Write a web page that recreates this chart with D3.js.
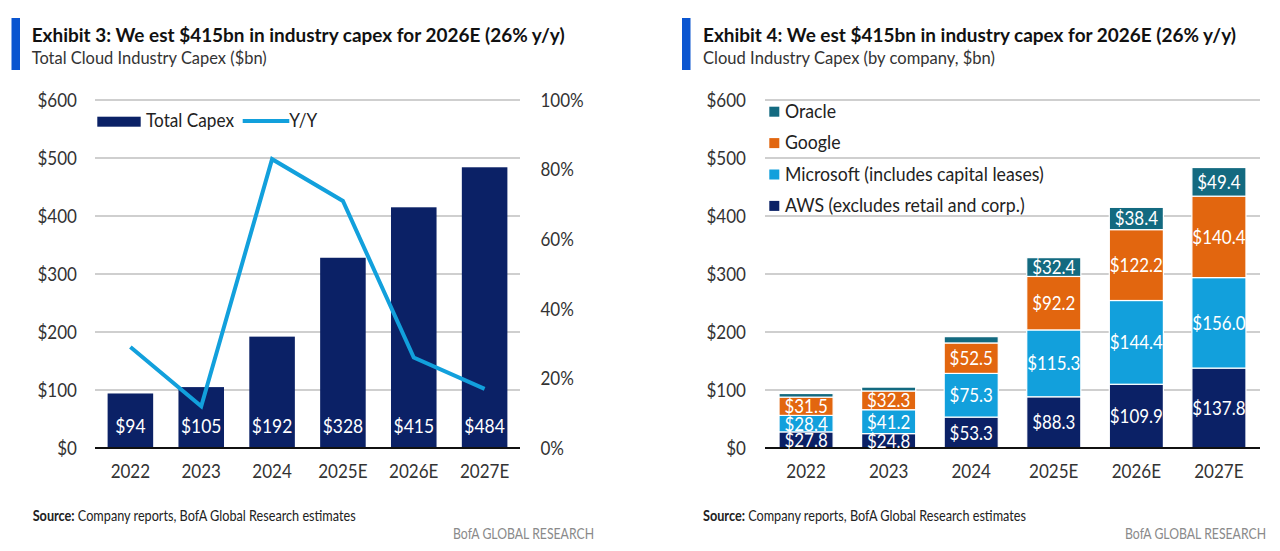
<!DOCTYPE html>
<html><head><meta charset="utf-8">
<script src="https://cdn.jsdelivr.net/npm/d3@7"></script>
<style>
html,body{margin:0;padding:0;background:#fff;}
svg{display:block;}
text{font-family:"Lato","Open Sans",sans-serif;}
</style></head>
<body>
<svg id="c" width="1280" height="551"></svg>
<script>
const categories = ["2022","2023","2024","2025E","2026E","2027E"];
const totalCapex = [94,105,192,328,415,484];
const yoyGrowth = [29,12,83,71,26,17];
const dollarTicks = [0,100,200,300,400,500,600];
const pctTicks = [0,20,40,60,80,100];
const companies = ["AWS (excludes retail and corp.)","Microsoft (includes capital leases)","Google","Oracle"];
const awsCapex = [27.8,24.8,53.3,88.3,109.9,137.8];
const msftCapex = [28.4,41.2,75.3,115.3,144.4,156.0];
const googCapex = [31.5,32.3,52.5,92.2,122.2,140.4];
const orclCapex = [6.3,6.7,10.9,32.4,38.4,49.4];

const NAVY="#0b2166", LBLUE="#12a0dc", ORANGE="#e2660f", TEAL="#136a80", ACCENT="#0a55d0";
const svg = d3.select("#c");
svg.append("rect").attr("width",1280).attr("height",551).attr("fill","#fff");

// condensed look: measure the installed font and squeeze text horizontally
function measure(str, size, weight){
  const t = svg.append("text").attr("font-size",size).attr("font-weight",weight||"normal").text(str);
  const w = t.node().getComputedTextLength(); t.remove(); return w;
}
const kText = 88/measure("Total Capex",20);
const kNum = 39.5/measure("$600",19.5);
function squeeze(sel,k){
  sel.each(function(){
    const w=this.getComputedTextLength();
    this.setAttribute("textLength",(w*k).toFixed(2));
    this.setAttribute("lengthAdjust","spacingAndGlyphs");
  });
}
function fitTo(sel,W){
  sel.attr("textLength",W).attr("lengthAdjust","spacingAndGlyphs");
}

function header(barX, textX, title, sub, tw, sw){
  svg.append("rect").attr("x",barX).attr("y",18).attr("width",8.5).attr("height",52).attr("fill",ACCENT);
  fitTo(svg.append("text").attr("x",textX).attr("y",41.7).attr("font-size",19.5).attr("font-weight","bold").attr("fill","#111").text(title), tw);
  fitTo(svg.append("text").attr("x",textX).attr("y",64.3).attr("font-size",17.5).attr("fill","#333").text(sub), sw);
}
function footer(x0, xr){
  const t = svg.append("text").attr("x",x0).attr("y",520.5).attr("font-size",15).attr("fill","#222");
  t.append("tspan").attr("font-weight","bold").text("Source:");
  t.append("tspan").text(" Company reports, BofA Global Research estimates");
  fitTo(t,323);
  fitTo(svg.append("text").attr("x",xr).attr("y",539).attr("text-anchor","end").attr("font-size",14.5).attr("fill","#8a8a8a").text("BofA GLOBAL RESEARCH"),141);
}

// ---------- Left chart ----------
header(11.5, 31.7, "Exhibit 3: We est $415bn in industry capex for 2026E (26% y/y)", "Total Cloud Industry Capex ($bn)", 533, 235);
const L = {x0:95, x1:520, y0:448, y1:100};
const xL = d3.scaleBand().domain(categories).range([L.x0,L.x1]).paddingInner(0.357).paddingOuter(0.178);
const yL = d3.scaleLinear().domain([0,600]).range([L.y0,L.y1]);
const yP = d3.scaleLinear().domain([0,100]).range([L.y0,L.y1]);

const gL = svg.append("g");
gL.append("g").attr("transform",`translate(${L.x0},0)`)
  .call(d3.axisLeft(yL).tickValues(dollarTicks).tickSize(0).tickPadding(18).tickFormat(d=>"$"+d))
  .call(g=>g.select(".domain").remove())
  .call(g=>g.selectAll("text").attr("font-size",19.5).attr("fill","#333").attr("font-family",null).call(squeeze,kNum));
gL.append("g").attr("transform",`translate(${L.x1},0)`)
  .call(d3.axisRight(yP).tickValues(pctTicks).tickSize(0).tickPadding(20.5).tickFormat(d=>d+"%"))
  .call(g=>g.select(".domain").remove())
  .call(g=>g.selectAll("text").attr("font-size",19.5).attr("fill","#333").attr("font-family",null).call(squeeze,kNum));
gL.append("g").selectAll("line").data(dollarTicks.filter(d=>d>0)).join("line")
  .attr("x1",L.x0).attr("x2",L.x1).attr("y1",d=>yL(d)).attr("y2",d=>yL(d))
  .attr("stroke","#cfcfcf").attr("stroke-width",2);
gL.append("g").selectAll("rect").data(categories).join("rect")
  .attr("x",d=>xL(d)).attr("width",xL.bandwidth())
  .attr("y",(d,i)=>yL(totalCapex[i])).attr("height",(d,i)=>yL(0)-yL(totalCapex[i]))
  .attr("fill",NAVY);
gL.append("line").attr("x1",L.x0).attr("x2",L.x1).attr("y1",L.y0).attr("y2",L.y0).attr("stroke","#111").attr("stroke-width",2);
gL.append("g").selectAll("text").data(categories).join("text")
  .attr("x",d=>xL(d)+xL.bandwidth()/2).attr("y",433).attr("text-anchor","middle")
  .attr("font-size",20).attr("fill","#fff").text((d,i)=>"$"+totalCapex[i]).call(squeeze,kNum);
const line = d3.line().x((d,i)=>xL(categories[i])+xL.bandwidth()/2).y(d=>yP(d));
gL.append("path").datum(yoyGrowth).attr("d",line).attr("fill","none").attr("stroke",LBLUE).attr("stroke-width",4).attr("stroke-linejoin","miter");
gL.append("g").selectAll("text").data(categories).join("text")
  .attr("x",d=>xL(d)+xL.bandwidth()/2).attr("y",478).attr("text-anchor","middle")
  .attr("font-size",19.5).attr("fill","#333").text(d=>d).call(squeeze,kNum);
// legend
gL.append("rect").attr("x",97.3).attr("y",116.7).attr("width",43.4).attr("height",10).attr("fill",NAVY);
gL.append("text").attr("x",146).attr("y",127.3).attr("font-size",20).attr("fill","#222").text("Total Capex").call(squeeze,kText);
gL.append("line").attr("x1",242.7).attr("x2",289.3).attr("y1",121).attr("y2",121).attr("stroke",LBLUE).attr("stroke-width",4);
gL.append("text").attr("x",289.3).attr("y",127.3).attr("font-size",20).attr("fill","#222").text("Y/Y").call(squeeze,kText);
footer(32.7, 594);

// ---------- Right chart ----------
header(682, 703, "Exhibit 4: We est $415bn in industry capex for 2026E (26% y/y)", "Cloud Industry Capex (by company, $bn)", 533, 292);
const R = {x0:765, x1:1260, y0:448, y1:100};
const xR = d3.scaleBand().domain(categories).range([R.x0,R.x1]).paddingInner(0.345).paddingOuter(0.17);
const yR = d3.scaleLinear().domain([0,600]).range([R.y0,R.y1]);
const gR = svg.append("g");
gR.append("g").attr("transform",`translate(${R.x0},0)`)
  .call(d3.axisLeft(yR).tickValues(dollarTicks).tickSize(0).tickPadding(19).tickFormat(d=>"$"+d))
  .call(g=>g.select(".domain").remove())
  .call(g=>g.selectAll("text").attr("font-size",19.5).attr("fill","#333").attr("font-family",null).call(squeeze,kNum));
gR.append("g").selectAll("line").data(dollarTicks.filter(d=>d>0)).join("line")
  .attr("x1",R.x0).attr("x2",R.x1).attr("y1",d=>yR(d)).attr("y2",d=>yR(d))
  .attr("stroke","#cfcfcf").attr("stroke-width",2);
const rows = categories.map((c,i)=>({cat:c, aws:awsCapex[i], msft:msftCapex[i], goog:googCapex[i], orcl:orclCapex[i]}));
const keys = ["aws","msft","goog","orcl"];
const colors = {aws:NAVY, msft:LBLUE, goog:ORANGE, orcl:TEAL};
const stacked = d3.stack().keys(keys)(rows);
const layers = gR.append("g").selectAll("g").data(stacked).join("g").attr("fill",d=>colors[d.key]);
layers.selectAll("rect").data(d=>d).join("rect")
  .attr("x",d=>xR(d.data.cat)).attr("width",xR.bandwidth())
  .attr("y",d=>yR(d[1])).attr("height",d=>yR(d[0])-yR(d[1]))
  .attr("stroke","#fff").attr("stroke-width",1.2);
gR.append("line").attr("x1",R.x0).attr("x2",R.x1).attr("y1",R.y0).attr("y2",R.y0).attr("stroke","#111").attr("stroke-width",2);
const lab = gR.append("g");
stacked.forEach(layer=>{
  lab.append("g").selectAll("text").data(layer.filter(d=>(d[1]-d[0])>=20)).join("text")
    .attr("x",d=>xR(d.data.cat)+xR.bandwidth()/2)
    .attr("y",d=>(yR(d[0])+yR(d[1]))/2+7)
    .attr("text-anchor","middle").attr("font-size",20).attr("fill","#fff")
    .text(d=>"$"+(d[1]-d[0]).toFixed(1)).call(squeeze,kNum*0.97);
});
gR.append("g").selectAll("text").data(categories).join("text")
  .attr("x",d=>xR(d)+xR.bandwidth()/2).attr("y",478).attr("text-anchor","middle")
  .attr("font-size",19.5).attr("fill","#333").text(d=>d).call(squeeze,kNum);
// legend (top to bottom: Oracle, Google, Microsoft, AWS)
const legItems = [["orcl",companies[3]],["goog",companies[2]],["msft",companies[1]],["aws",companies[0]]];
const lg = gR.append("g").selectAll("g").data(legItems).join("g")
  .attr("transform",(d,i)=>`translate(769.3,${111.7+i*31.4})`);
lg.append("rect").attr("x",0).attr("y",-5).attr("width",10).attr("height",10).attr("fill",d=>colors[d[0]]);
lg.append("text").attr("x",15.7).attr("y",6.3).attr("font-size",20).attr("fill","#222").text(d=>d[1]).call(squeeze,kText*1.03);
footer(703, 1266);
</script>
</body></html>
